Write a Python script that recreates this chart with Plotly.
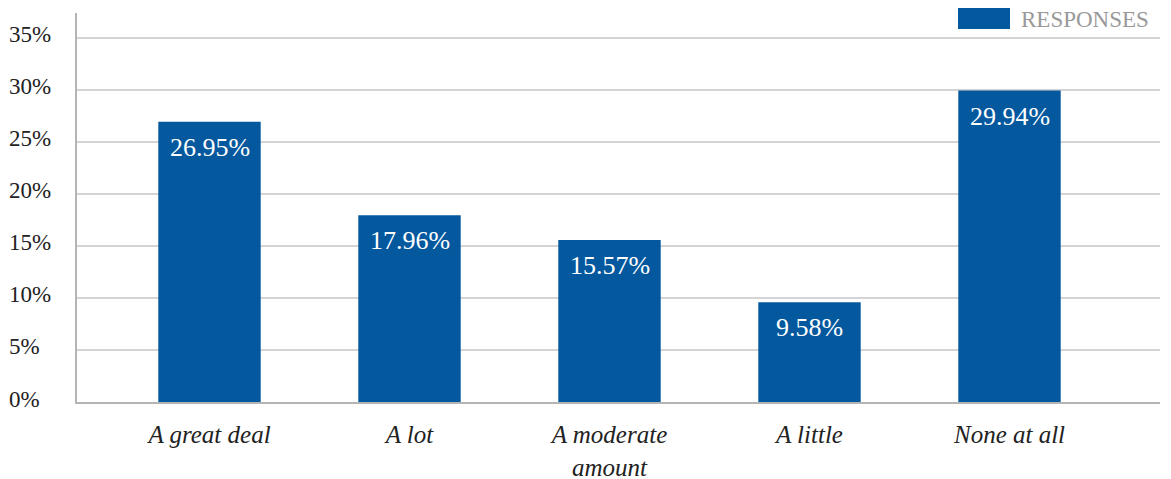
import plotly.graph_objects as go

# Survey responses
categories = ["A great deal", "A lot", "A moderate<br>amount", "A little", "None at all"]
responses = [26.95, 17.96, 15.57, 9.58, 29.94]
series_name = "RESPONSES"

# Y axis ticks
y_ticks = [0, 5, 10, 15, 20, 25, 30, 35]
y_tick_labels = ["0%", "5%", "10%", "15%", "20%", "25%", "30%", "35%"]

BAR_COLOR = "#03589E"
FONT = "Liberation Serif, Times New Roman, serif"

# plot area in pixels
L, R, T, B = 77, 11, 13, 77
W, H = 1171, 479
PW, PH = W - L - R, H - T - B


def px_x(px):
    return (px - L) / PW


def px_y(py):
    return (H - B - py) / PH


fig = go.Figure()
fig.add_trace(go.Bar(
    x=categories,
    y=responses,
    name=series_name,
    marker=dict(color=BAR_COLOR, line=dict(width=0)),
    showlegend=False,
    hoverinfo="skip",
))

annotations = []

# value labels inside the top of each bar
for c, v in zip(categories, responses):
    annotations.append(dict(
        x=c, xref="x", y=v, yref="y",
        text=f"{v:.2f}%", showarrow=False, xanchor="center", yanchor="top",
        yshift=-9, font=dict(family=FONT, size=26, color="white"),
    ))

# y tick labels, left aligned at the chart edge
for v, lab in zip(y_ticks, y_tick_labels):
    annotations.append(dict(
        x=px_x(7), xref="paper", y=v, yref="y",
        text=lab, showarrow=False, xanchor="left", yanchor="middle",
        yshift=3, font=dict(family=FONT, size=23, color="#222222"),
    ))

# legend entry
annotations.append(dict(
    x=px_x(1019), xref="paper", y=px_y(19), yref="paper",
    text=series_name, showarrow=False, xanchor="left", yanchor="middle",
    font=dict(family=FONT, size=23, color="#999999"),
))

fig.update_layout(
    width=W, height=H,
    margin=dict(l=L, r=R, t=T, b=B, autoexpand=False),
    paper_bgcolor="white", plot_bgcolor="white",
    bargap=0.488,
    annotations=annotations,
    shapes=[dict(
        type="rect", xref="paper", yref="paper",
        x0=px_x(958), x1=px_x(1010),
        y0=px_y(29), y1=px_y(8),
        fillcolor=BAR_COLOR, line=dict(width=0),
    )],
    xaxis=dict(
        type="category",
        range=[-0.6625, 4.7525],
        automargin=False,
        showline=True, linecolor="#B4B4B4", linewidth=2,
        ticks="", showgrid=False,
        tickfont=dict(family=FONT, size=25, color="#222222", style="italic"),
        ticklabelstandoff=9,
    ),
    yaxis=dict(
        range=[0, 37.4],
        automargin=False,
        tickvals=y_ticks, showticklabels=False,
        showgrid=True, gridcolor="#D4D4D4", gridwidth=1.5,
        showline=True, linecolor="#B4B4B4", linewidth=2,
        zeroline=False, ticks="",
    ),
)

fig.write_html("out.html")
